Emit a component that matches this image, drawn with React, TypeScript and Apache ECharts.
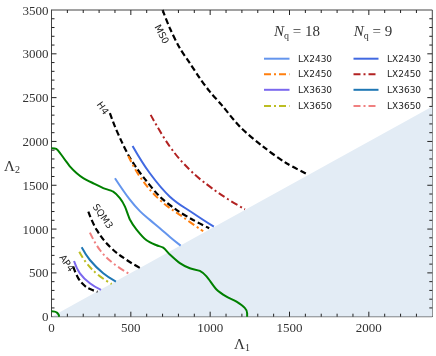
import React, { useEffect, useRef } from "react";
import * as echarts from "echarts";

// ---- data (Λ1, Λ2) ----
const xTicksMajor = [0, 500, 1000, 1500, 2000];
const X_MAX = 2400;
const Y_MAX = 3500;
const MAJOR_STEP = 500;
const MINOR_STEP = 100;
const shadeLine = [[0, 0], [2400, 2400]];

const greenMain = [
  [0, 1922], [30, 1915], [54, 1868], [85, 1790], [117, 1712], [159, 1637], [200, 1582],
  [263, 1523], [326, 1468], [389, 1427], [431, 1352], [463, 1256], [494, 1110],
  [536, 995], [599, 872], [662, 815], [704, 788], [746, 710], [809, 612],
  [872, 553], [935, 522], [977, 460], [1040, 310], [1103, 228], [1166, 171],
  [1218, 100], [1233, 40], [1233, 0],
];
const greenSmall = [[0, 62], [20, 58], [34, 46], [43, 28], [47, 10], [47, 0]];

const ms0 = [[700, 3500], [746, 3292], [809, 3064], [872, 2893], [935, 2721], [998, 2568], [1072, 2417], [1187, 2169], [1334, 1941], [1481, 1751], [1611, 1627]];
const h4 = [[368, 2322], [400, 2169], [442, 1998], [484, 1846], [537, 1694], [589, 1570], [683, 1370], [788, 1218], [893, 1104], [994, 1009]];
const sqm3 = [[232, 1199], [285, 990], [368, 799], [474, 647], [562, 552]];
const ap4 = [[137, 571], [169, 438], [211, 350], [250, 310], [290, 285]];

// N_q = 18
const q18_LX2430 = [[400, 1580], [494, 1335], [557, 1205], [620, 1105], [683, 1010], [750, 905], [814, 811]];
const q18_LX2450 = [[484, 1834], [557, 1598], [683, 1332], [830, 1135], [956, 975]];
const q18_LX3630 = [[142, 636], [179, 495], [242, 381], [312, 305]];
const q18_LX3650 = [[175, 742], [222, 609], [295, 476], [379, 373]];
// N_q = 9
const q9_LX2430 = [[511, 1949], [620, 1637], [746, 1370], [893, 1180], [1023, 1027]];
const q9_LX2450 = [[625, 2303], [746, 1941], [872, 1675], [998, 1484], [1113, 1340], [1219, 1226]];
const q9_LX3630 = [[190, 792], [242, 647], [326, 495], [406, 400]];
const q9_LX3650 = [[242, 959], [305, 761], [389, 609], [484, 495]];

const legendNames = ["LX2430", "LX2450", "LX3630", "LX3650"];
const q18Colors = ["#6495ED", "#FF7F0E", "#7B68EE", "#BCBD22"];
const q9Colors = ["#4169E1", "#B22222", "#1F77B4", "#F08080"];

const DASHDOT = [7, 3, 2, 3];
const DASHED = [6, 3];
const SERIF = "'Liberation Serif', 'DejaVu Serif', serif";
const SANS = "'DejaVu Sans', 'Liberation Sans', sans-serif";

function curve(name: string, data: number[][], color: string, dash: any, width = 2, smooth: number | boolean = 0.4) {
  return {
    type: "line",
    name,
    data,
    smooth,
    symbol: "none",
    silent: true,
    z: 3,
    lineStyle: { color, width, type: dash, cap: "butt" },
  };
}

export default function App() {
  const ref = useRef<HTMLDivElement>(null);
  useEffect(() => {
    if (!ref.current) return;
    const chart = echarts.init(ref.current, undefined, { renderer: "svg" });
    const axisColor = "#444";
    const tickColor = "#222";
    const GL = 51.5, GR = 3.7, GT = 10, GB = 39.3;
    const grid = { left: GL, right: GR, top: GT, bottom: GB, show: true, borderColor: axisColor, borderWidth: 1, backgroundColor: "transparent" };

    const legendGraphics: any[] = [];
    const rowsY = [58.7, 74.2, 89.8, 106];
    const dashes = [[], DASHDOT, [], DASHDOT];
    legendNames.forEach((n, i) => {
      legendGraphics.push({
        type: "line",
        shape: { x1: 264, y1: rowsY[i], x2: 289.5, y2: rowsY[i] },
        style: { stroke: q18Colors[i], lineWidth: 2, lineDash: dashes[i].length ? dashes[i] : null },
      });
      legendGraphics.push({
        type: "text", x: 298, y: rowsY[i],
        style: { text: n, font: `9px ${SANS}`, fill: "#222", align: "left", verticalAlign: "middle" },
      });
      legendGraphics.push({
        type: "line",
        shape: { x1: 353.5, y1: rowsY[i], x2: 378.5, y2: rowsY[i] },
        style: { stroke: q9Colors[i], lineWidth: 2, lineDash: dashes[i].length ? dashes[i] : null },
      });
      legendGraphics.push({
        type: "text", x: 387, y: rowsY[i],
        style: { text: n, font: `9px ${SANS}`, fill: "#222", align: "left", verticalAlign: "middle" },
      });
    });

    const richTitle = {
      it: { fontFamily: SERIF, fontStyle: "italic", fontSize: 15, fill: "#333" },
      sub: { fontFamily: SERIF, fontSize: 10, fill: "#333", verticalAlign: "bottom", padding: [8, 0, 0, 0] },
      n: { fontFamily: SERIF, fontSize: 15, fill: "#333" },
    };

    const curveLabel = (text: string, x: number, y: number, deg: number) => ({
      type: "text", x, y, rotation: (-deg * Math.PI) / 180, z: 10,
      style: { text, font: `9.5px ${SANS}`, fill: "#222", align: "center", verticalAlign: "middle" },
    });

    // Tick marks on all four sides: positions from the axis extents and grid box
    const W = 436, H = 356;
    const xL = GL, xR = W - GR, yT = GT, yB = H - GB;
    const sx = (v: number) => xL + (v / X_MAX) * (xR - xL);
    const sy = (v: number) => yB - (v / Y_MAX) * (yB - yT);
    const ticks: any[] = [];
    const tickStyle = { stroke: tickColor, lineWidth: 1 };
    for (let v = MINOR_STEP; v < X_MAX; v += MINOR_STEP) {
      const len = v % MAJOR_STEP === 0 ? 5 : 3;
      const px = sx(v);
      ticks.push({ type: "line", z: 20, silent: true, shape: { x1: px, y1: yB, x2: px, y2: yB - len }, style: tickStyle });
      ticks.push({ type: "line", z: 20, silent: true, shape: { x1: px, y1: yT, x2: px, y2: yT + len }, style: tickStyle });
    }
    for (let v = MINOR_STEP; v < Y_MAX; v += MINOR_STEP) {
      const len = v % MAJOR_STEP === 0 ? 5 : 3;
      const py = sy(v);
      ticks.push({ type: "line", z: 20, silent: true, shape: { x1: xL, y1: py, x2: xL + len, y2: py }, style: tickStyle });
      ticks.push({ type: "line", z: 20, silent: true, shape: { x1: xR, y1: py, x2: xR - len, y2: py }, style: tickStyle });
    }

    chart.setOption({
      animation: false,
      grid,
      xAxis: {
        type: "value", min: 0, max: X_MAX, interval: MAJOR_STEP, position: "bottom",
        splitLine: { show: false },
        axisLine: { show: true, onZero: false, lineStyle: { color: axisColor, width: 1 } },
        axisTick: { show: false },
        axisLabel: {
          show: true, showMaxLabel: false, margin: 4, fontFamily: SERIF, fontSize: 13, color: "#333",
          formatter: (v: number) => (xTicksMajor.indexOf(v) >= 0 ? String(v) : ""),
        },
      },
      yAxis: {
        type: "value", min: 0, max: Y_MAX, interval: MAJOR_STEP, position: "left",
        splitLine: { show: false },
        axisLine: { show: true, onZero: false, lineStyle: { color: axisColor, width: 1 } },
        axisTick: { show: false },
        axisLabel: { show: true, margin: 3, fontFamily: SERIF, fontSize: 13, color: "#333", formatter: (v: number) => String(v) },
      },
      series: [
        {
          type: "line", data: shadeLine, symbol: "none", silent: true, z: 1,
          lineStyle: { width: 0, opacity: 0 },
          areaStyle: { color: "#E3ECF5", opacity: 1 },
        },
        curve("green", greenMain, "#008000", "solid", 2, 0.25),
        curve("green2", greenSmall, "#008000", "solid", 2, 0.4),
        curve("MS0", ms0, "#000", DASHED, 2.2, 0.3),
        curve("H4", h4, "#000", DASHED, 2.2, 0.3),
        curve("SQM3", sqm3, "#000", DASHED, 2.2),
        curve("AP4", ap4, "#000", DASHED, 2.2),
        curve("q18 LX2430", q18_LX2430, q18Colors[0], "solid"),
        curve("q18 LX2450", q18_LX2450, q18Colors[1], DASHDOT),
        curve("q18 LX3630", q18_LX3630, q18Colors[2], "solid"),
        curve("q18 LX3650", q18_LX3650, q18Colors[3], DASHDOT),
        curve("q9 LX2430", q9_LX2430, q9Colors[0], "solid"),
        curve("q9 LX2450", q9_LX2450, q9Colors[1], DASHDOT),
        curve("q9 LX3630", q9_LX3630, q9Colors[2], "solid"),
        curve("q9 LX3650", q9_LX3650, q9Colors[3], DASHDOT),
      ],
      graphic: [
        ...legendGraphics,
        {
          type: "text", x: 297, y: 31, z: 10,
          style: { text: "{it|N}{sub|q}{n| = 18}", rich: richTitle, align: "center", verticalAlign: "middle" },
        },
        {
          type: "text", x: 373, y: 31, z: 10,
          style: { text: "{it|N}{sub|q}{n| = 9}", rich: richTitle, align: "center", verticalAlign: "middle" },
        },
        curveLabel("MS0", 162, 34, 62),
        curveLabel("H4", 103, 108, 55),
        curveLabel("SQM3", 103, 216, 55),
        curveLabel("AP4", 67, 263, 55),
        {
          type: "text", x: 242, y: 344, z: 10,
          style: {
            text: "{a|Λ}{s|1}", align: "center", verticalAlign: "middle",
            rich: {
              a: { fontFamily: SERIF, fontSize: 15, fill: "#333" },
              s: { fontFamily: SERIF, fontSize: 10, fill: "#333", verticalAlign: "bottom", padding: [7, 0, 0, 0] },
            },
          },
        },
        {
          type: "text", x: 12, y: 166, z: 10,
          style: {
            text: "{a|Λ}{s|2}", align: "center", verticalAlign: "middle",
            rich: {
              a: { fontFamily: SERIF, fontSize: 15, fill: "#333" },
              s: { fontFamily: SERIF, fontSize: 10, fill: "#333", verticalAlign: "bottom", padding: [7, 0, 0, 0] },
            },
          },
        },
        ...ticks,
      ],
    });
    return () => chart.dispose();
  }, []);
  return <div ref={ref} style={{ position: "fixed", left: 0, top: 0, width: 436, height: 356 }} />;
}
